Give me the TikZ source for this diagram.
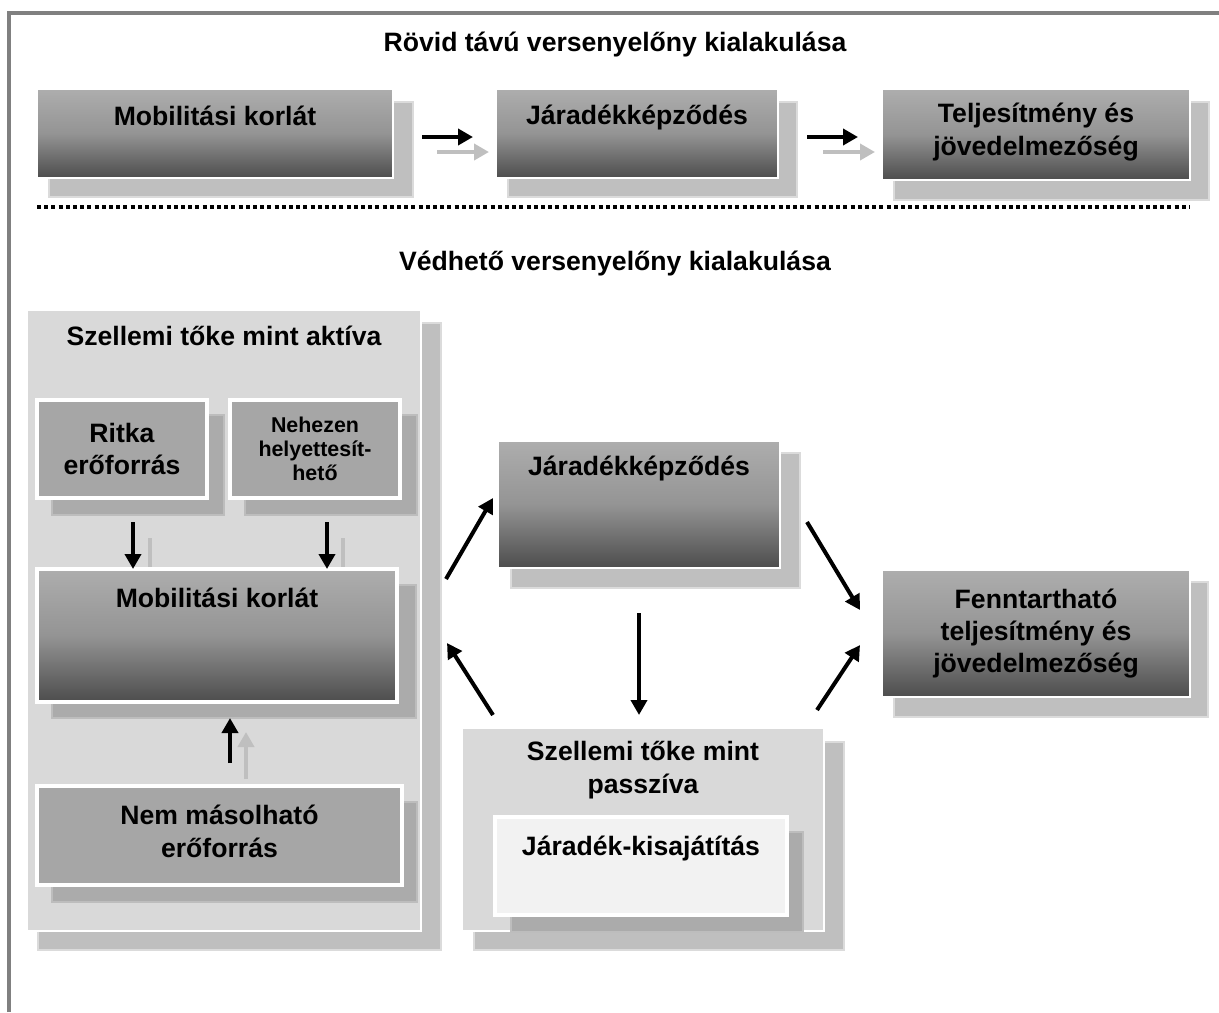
\documentclass[tikz,border=0pt]{standalone}
\usepackage{fontspec}
\setmainfont{Liberation Sans}
\usetikzlibrary{positioning, calc, arrows.meta}

\begin{document}
\begin{tikzpicture}[
    x=0.5pt, y=-0.5pt,
    font=\bfseries\fontsize{13.3}{16.2}\selectfont,
    % --- Styles ---
    sz/.style 2 args={minimum width=#1*0.5pt, minimum height=#2*0.5pt, inner sep=0pt, outer sep=0pt},
    shadow_lt/.style={fill=black!25, draw=black!14, line width=0.6pt},
    shadow_dk/.style={fill=black!33, draw=black!26, line width=0.6pt},
    grad_box/.style={draw=white, line width=0.8pt, top color=black!32, bottom color=black!70, middle color=black!42},
    grad_box_in/.style={grad_box, line width=2pt},
    flat_box/.style={fill=black!35, draw=white, line width=2pt},
    panel/.style={fill=black!15, draw=white, line width=1pt},
    light_box/.style={fill=black!5, draw=white, line width=2pt},
    box_text/.style={align=center, text=black},
    small_text/.style={align=center, font=\bfseries\fontsize{10.7}{12}\selectfont},
    arr_black/.style={-{Triangle[length=7.5pt, width=8pt]}, line width=2pt, color=black},
    arr_gray/.style={-{Triangle[length=7.5pt, width=8pt]}, line width=2pt, color=black!25},
    sep_line/.style={line width=2pt, dash pattern=on 2pt off 1.6pt},
    frame_line/.style={draw=black!50, line width=2pt},
]
    \useasboundingbox (0,0) rectangle (1219,1012);

    % frame
    \draw[frame_line] (9,1012) -- (9,13) -- (1219,13);

    % ==========================
    % 1. SHORT-TERM ROW (Top)
    % ==========================
    \node[box_text, anchor=base] (t_short) at (615,51) {Rövid távú versenyelőny kialakulása};

    \node[shadow_lt, sz={364}{95}] (mk_s) at (231,149.5) {};
    \node[grad_box, sz={356}{89}] (mk) at (215,133.5) {};
    \node[box_text, anchor=base] at ($(mk.north)+(0,36)$) {Mobilitási korlát};

    \node[shadow_lt, sz={289}{95}] (jk_s) at (652.5,149.5) {};
    \node[grad_box, sz={282}{89}] (jk) at (637,133.5) {};
    \node[box_text, anchor=base] at ($(jk.north)+(0,35)$) {Járadékképződés};

    \node[shadow_lt, sz={315}{98}] (tj_s) at (1051.5,151) {};
    \node[grad_box, sz={308}{91}] (tj) at (1036,134.5) {};
    \node[box_text] at ($(tj.center)+(0,-2.5)$) {Teljesítmény és\\jövedelmezőség};

    % arrows
    \coordinate (r1) at ($(mk.east)+(0,3.5)$);
    \coordinate (r2) at ($(mk.east)+(0,18.5)$);
    \coordinate (r3) at ($(jk.east)+(0,3.5)$);
    \coordinate (r4) at ($(jk.east)+(0,18.5)$);
    \draw[arr_black, shorten <=14.5pt, shorten >=11.5pt] (r1) -- (r1 -| jk.west);
    \draw[arr_gray, shorten <=22pt, shorten >=3.5pt] (r2) -- (r2 -| jk.west);
    \draw[arr_black, shorten <=14.5pt, shorten >=12pt] (r3) -- (r3 -| tj.west);
    \draw[arr_gray, shorten <=22.5pt, shorten >=3.5pt] (r4) -- (r4 -| tj.west);

    \draw[sep_line] ($(mk.west)+(0,73.5)$) -- ($(tj.east)+(0,72.5)$);

    % ==========================
    % 2. SUSTAINABLE PART
    % ==========================
    \node[box_text, anchor=base] (t_long) at (615,270) {Védhető versenyelőny kialakulása};

    % --- asset panel (left) ---
    \node[shadow_lt, sz={403}{627}] (ak_s) at (239.5,636.5) {};
    \node[panel, sz={394}{621}] (ak) at (224,620.5) {};
    \node[box_text, anchor=base] at ($(ak.north)+(0,35)$) {Szellemi tőke mint aktíva};

    \node[shadow_dk, sz={172}{100}] (rf_s) at (138,465) {};
    \node[flat_box, sz={170}{98}] (rf) at (122,449) {};
    \node[box_text] at (rf.center) {Ritka\\erőforrás};

    \node[shadow_dk, sz={172}{100}] (nh_s) at (331,465) {};
    \node[flat_box, sz={170}{98}] (nh) at (315,449) {};
    \node[small_text] at (nh.center) {Nehezen\\helyettesít-\\hető};

    \node[shadow_dk, sz={364}{133}] (mk2_s) at (234,651.5) {};

    \coordinate (rf_a) at ($(rf.south)+(11,24)$);
    \coordinate (rf_b) at ($(rf.south)+(28,40)$);
    \coordinate (nh_a) at ($(nh.south)+(12,24)$);
    \coordinate (nh_b) at ($(nh.south)+(28,40)$);
    \draw[arr_gray] (rf_b) -- (rf_b |- mk2_s.north);
    \draw[arr_gray] (nh_b) -- (nh_b |- mk2_s.north);

    \node[grad_box_in, sz={360}{133}] (mk2) at (217,635.5) {};
    \node[box_text, anchor=base] at ($(mk2.north)+(0,38)$) {Mobilitási korlát};

    \draw[arr_black] (rf_a) -- (rf_a |- mk2.north);
    \draw[arr_black] (nh_a) -- (nh_a |- mk2.north);

    \node[shadow_dk, sz={365}{100}] (nm_s) at (234.5,852) {};
    \node[flat_box, sz={365}{99}] (nm) at (219.5,835.5) {};
    \node[box_text] at ($(nm.center)+(0,-4)$) {Nem másolható\\erőforrás};

    \coordinate (nm_a) at ($(nm.north)+(10.5,-23)$);
    \coordinate (nm_b) at ($(nm.north)+(26.5,-7)$);
    \coordinate (nm_c) at ($(nm_b)+(0,-47)$);
    \draw[arr_black] (nm_a) -- (nm_a |- mk2_s.south);
    \draw[arr_gray] (nm_b) -- (nm_c);

    % --- rent creation (middle) ---
    \node[shadow_lt, sz={289}{135}] (jk2_s) at (655.5,520.5) {};
    \node[grad_box, sz={282}{127}] (jk2) at (639,504.5) {};
    \node[box_text, anchor=base] at ($(jk2.north)+(0,34)$) {Járadékképződés};

    % --- liability panel ---
    \node[shadow_lt, sz={370}{208}] (pa_s) at (659,846) {};
    \node[panel, sz={362}{203}] (pa) at (643,829.5) {};
    \node[box_text] at (643,770) {Szellemi tőke mint\\passzíva};

    \node[shadow_dk, sz={292}{100}] (kis_s) at (657,882) {};
    \node[light_box, sz={292}{98}] (kis) at (641,866) {};
    \node[box_text, anchor=base] at ($(kis.north)+(0,38)$) {Járadék-kisajátítás};

    % --- outcome (right) ---
    \node[shadow_lt, sz={314}{135}] (ft_s) at (1051,649.5) {};
    \node[grad_box, sz={308}{127}] (ft) at (1036,633.5) {};
    \node[box_text] at (ft.center) {Fenntartható\\teljesítmény és\\jövedelmezőség};

    % connectors
    \draw[arr_black] ($(ak.east)+(25,-41.5)$) -- ($(jk2.west)+(-5,-6.5)$);
    \draw[arr_black] ($(pa.north west)+(31,-13)$) -- ($(ak.east)+(26,22.5)$);
    \draw[arr_black, shorten <=22.5pt, shorten >=6.5pt] (jk2.south) -- (jk2.south |- pa.north);
    \draw[arr_black] ($(jk2.east)+(27,17.5)$) -- ($(ft.west)+(-22,-23.5)$);
    \draw[arr_black] ($(pa.north east)+(-7,-18)$) -- ($(ft.west)+(-22,11.5)$);

\end{tikzpicture}
\end{document}
